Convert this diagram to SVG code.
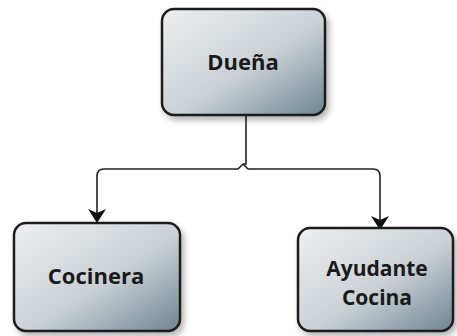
<svg xmlns="http://www.w3.org/2000/svg" width="457" height="336" viewBox="0 0 457 336">
<style>
.box{fill:url(#g);stroke:#1e1e1e;stroke-width:2.5}
.lbl{font-family:"Open Sans","DejaVu Sans",sans-serif;font-weight:bold;font-size:22px;fill:#1a1a1a;text-anchor:middle}
.lbl2{font-size:21px}
.con{fill:none;stroke:#222;stroke-width:1.6}
</style>
<defs>
<linearGradient id="g" x1="0" y1="0" x2="1" y2="1">
<stop offset="0" stop-color="#eef0f1"/>
<stop offset="0.55" stop-color="#c9d0d4"/>
<stop offset="1" stop-color="#6e8591"/>
</linearGradient>
<filter id="sh" x="-20%" y="-20%" width="140%" height="140%">
<feGaussianBlur in="SourceAlpha" stdDeviation="3"/>
<feOffset dx="3" dy="4"/>
<feComponentTransfer><feFuncA type="linear" slope="0.3"/></feComponentTransfer>
<feMerge><feMergeNode/><feMergeNode in="SourceGraphic"/></feMerge>
</filter>
<marker id="arr" markerWidth="18" markerHeight="16" viewBox="0 0 18 16" refX="9" refY="15" orient="0" markerUnits="userSpaceOnUse">
<path d="M0,2 L9,6 L18,2 L9,16 Z" fill="#111"/>
</marker>
</defs>
<g id="connectors">
<path class="con" d="M246,115 V164 L243,164"/>
<path class="con" d="M243,164 L238,169 H104 Q97,169 97,176 V222" marker-end="url(#arr)"/>
<path class="con" d="M243,164 L248,169 H373 Q380,169 380,176 V229" marker-end="url(#arr)"/>
</g>
<g id="duena">
<rect class="box" x="162" y="9" width="163" height="106" rx="12" filter="url(#sh)"/>
<text class="lbl" x="243" y="70">Dueña</text>
</g>
<g id="cocinera">
<rect class="box" x="14" y="223" width="166" height="108" rx="12" filter="url(#sh)"/>
<text class="lbl" x="96" y="284">Cocinera</text>
</g>
<g id="ayudante">
<rect class="box" x="298" y="228" width="155" height="103" rx="12" filter="url(#sh)"/>
<text class="lbl lbl2" x="377" y="276">Ayudante</text>
<text class="lbl lbl2" x="377" y="305">Cocina</text>
</g>
</svg>
